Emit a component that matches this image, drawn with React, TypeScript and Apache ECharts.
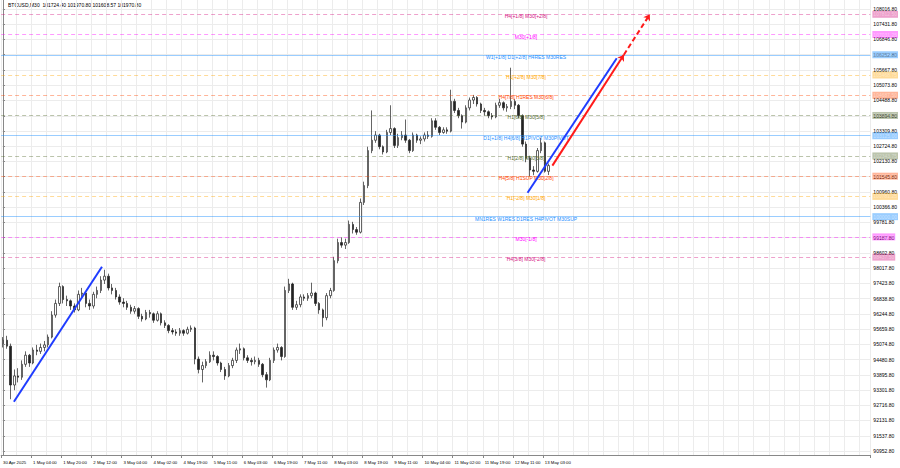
import React, { useEffect, useRef } from 'react';
import * as echarts from 'echarts';

const headerText = 'BTCUSD,M30  101724.40 101970.80 101608.57 101970.80';

const timeLabels = [
  '30 Apr 2025', '1 May 04:00', '1 May 20:00', '2 May 12:00', '3 May 04:00', '4 May 02:00',
  '4 May 19:00', '5 May 11:00', '6 May 03:00', '6 May 19:00', '7 May 11:00', '8 May 03:00',
  '8 May 19:00', '9 May 11:00', '10 May 04:00', '11 May 02:00', '11 May 19:00', '12 May 11:00',
  '13 May 03:00',
];

const yTicks = [
  108016.8, 107431.8, 106846.8, 106252.8, 105667.8, 105073.8, 104488.8, 103894.8, 103309.8,
  102724.8, 102130.8, 101545.8, 100960.8, 100366.8, 99781.8, 99187.8, 98602.8, 98017.8,
  97423.8, 96838.8, 96244.8, 95659.8, 95074.8, 94480.8, 93895.8, 93301.8, 92716.8, 92131.8,
  91537.8, 90952.8,
];

// [open, close, low, high] — 2-hour candles
const candles: number[][] = [
  [95100, 95230, 94950, 95350], [95230, 95000, 94900, 95400], [95000, 93500, 92950, 95100],
  [93500, 93850, 93300, 94100], [93850, 93800, 93600, 94150], [93800, 94300, 93700, 94450],
  [94300, 94650, 94200, 94800], [94650, 94350, 94200, 94700], [94350, 94850, 94300, 94950],
  [94850, 94800, 94650, 95050], [94800, 94950, 94700, 95100], [94950, 95050, 94800, 95200],
  [95050, 95350, 94950, 95450], [95350, 96200, 95300, 96350], [96200, 96650, 96100, 96800],
  [96650, 97300, 96550, 97450], [97300, 96800, 96650, 97350], [96800, 96750, 96550, 96950],
  [96750, 96550, 96400, 96800], [96550, 96400, 96300, 96650], [96400, 97000, 96350, 97150],
  [97000, 97050, 96900, 97250], [97050, 96650, 96500, 97100], [96650, 96550, 96400, 96800],
  [96550, 97000, 96450, 97100], [97000, 97150, 96850, 97300], [97150, 97550, 97050, 97700],
  [97550, 97700, 97400, 97950], [97700, 97250, 97150, 97800], [97250, 97150, 97000, 97400],
  [97150, 96900, 96800, 97250], [96900, 96700, 96600, 97000], [96700, 96650, 96500, 96850],
  [96650, 96500, 96400, 96750], [96500, 96350, 96250, 96600], [96350, 96450, 96250, 96550],
  [96450, 96150, 96050, 96500], [96150, 96050, 95950, 96250], [96050, 96300, 96000, 96400],
  [96300, 96250, 96100, 96400], [96250, 96000, 95900, 96300], [96000, 96250, 95950, 96350],
  [96250, 95900, 95800, 96300], [95900, 95800, 95700, 96000], [95800, 95600, 95500, 95850],
  [95600, 95550, 95450, 95700], [95550, 95500, 95400, 95650], [95500, 95600, 95400, 95700],
  [95600, 95500, 95400, 95650], [95500, 95650, 95450, 95750], [95650, 95700, 95550, 95800],
  [95700, 94500, 94300, 95750], [94500, 94100, 93950, 94600], [94100, 94250, 93600, 94400],
  [94250, 94400, 94150, 94500], [94400, 94650, 94350, 94800], [94650, 94600, 94450, 94800],
  [94600, 94350, 94250, 94650], [94350, 94100, 94000, 94400], [94100, 93850, 93700, 94200],
  [93850, 94250, 93800, 94350], [94250, 94450, 94150, 94550], [94450, 94850, 94350, 94950],
  [94850, 94900, 94700, 95100], [94900, 94550, 94450, 94950], [94550, 94450, 94350, 94650],
  [94450, 94400, 94250, 94550], [94400, 94450, 94300, 94600], [94450, 94300, 94200, 94550],
  [94300, 93900, 93800, 94350], [93900, 93700, 93400, 94000], [93700, 94450, 93650, 94550],
  [94450, 94850, 94350, 94950], [94850, 94950, 94750, 95100], [94950, 94600, 94450, 95000],
  [94600, 97150, 94550, 97300], [97150, 97400, 97050, 97600], [97400, 96500, 96400, 97450],
  [96500, 96600, 96400, 96750], [96600, 96900, 96500, 97000], [96900, 96850, 96750, 97000],
  [96850, 96950, 96750, 97050], [96950, 97050, 96850, 97450], [97050, 96650, 96550, 97100],
  [96650, 96400, 96250, 96700], [96400, 96100, 95750, 96450], [96100, 96950, 96000, 97050],
  [96950, 97150, 96850, 97250], [97150, 98300, 97100, 98450], [98300, 99000, 98200, 99150],
  [99000, 98900, 98800, 99200], [98900, 99000, 98750, 99150], [99000, 99700, 98950, 99850],
  [99700, 99500, 99350, 99800], [99500, 99400, 99300, 99600], [99400, 100550, 99350, 100700],
  [100550, 101200, 100450, 101350], [101200, 102550, 101100, 102700], [102550, 102950, 102450, 104100],
  [102950, 103150, 102850, 103300], [103150, 102700, 102600, 103200], [102700, 102500, 102400, 102750],
  [102500, 103250, 102450, 103350], [103250, 103400, 103150, 104300], [103400, 102750, 102650, 103450],
  [102750, 103050, 102650, 103200], [103050, 103150, 102950, 103300], [103150, 102950, 102850, 103750],
  [102950, 102550, 102450, 103000], [102550, 103150, 102500, 103250], [103150, 102950, 102850, 103200],
  [102950, 103000, 102800, 103100], [103000, 103150, 102900, 103250], [103150, 103100, 103000, 103300],
  [103100, 103700, 103050, 103800], [103700, 103450, 103350, 103800], [103450, 103250, 103150, 103500],
  [103250, 103350, 103200, 103450], [103350, 103300, 103200, 103450], [103300, 104450, 103250, 104900],
  [104450, 104100, 104000, 104550], [104100, 103900, 103800, 104200], [103900, 103650, 103400, 103950],
  [103650, 104200, 103600, 104300], [104200, 104500, 104100, 104600], [104500, 104600, 104350, 104700],
  [104600, 104350, 104250, 104650], [104350, 104100, 104000, 104400], [104100, 104050, 103900, 104200],
  [104050, 103900, 103800, 104100], [103900, 103850, 103750, 104000], [103850, 104300, 103800, 104400],
  [104300, 104400, 104200, 104550], [104400, 104200, 104100, 104450], [104200, 104250, 104050, 104350],
  [104250, 104450, 104150, 105750], [104450, 104300, 104150, 104550], [104300, 103900, 103800, 104350],
  [103900, 102800, 102700, 103950], [102800, 102250, 102100, 102900], [102250, 101800, 101550, 102350],
  [101800, 101750, 101600, 101950], [101750, 102550, 101700, 102650], [102550, 102850, 102450, 103050],
  [102850, 101750, 101700, 102900], [101750, 101970.8, 101608.57, 102050],
];

const lastPrice = 101970.8;

const levelPrices = [
  107812.5, 107031.25, 106250, 105468.75, 104687.5, 103906.25, 103125,
  102343.75, 101562.5, 100781.25, 100000, 99218.75, 98437.5,
];
const levelTexts = [
  'H4[+1/8] M30[+2/8]',
  'M30[+1/8]',
  'W1[+1/8] D1[+2/8] H4RES M30RES',
  'H1[+2/8] M30[7/8]',
  'H4[7/8] H1RES M30[6/8]',
  'H1[6/8] M30[5/8]',
  'D1[+1/8] H4[6/8] H1PIVOT M30PIVOT',
  'H1[2/8] M30[3/8]',
  'H4[5/8] H1SUP M30[2/8]',
  'H1[-2/8] M30[1/8]',
  'MN1RES W1RES D1RES H4PIVOT M30SUP',
  'M30[-1/8]',
  'H4[3/8] M30[-2/8]',
];
const levelColors = [
  '#d4137f', '#ff00ff', '#1e90ff', '#ffa500', '#ff4500', '#556b2f', '#1e90ff',
  '#556b2f', '#ff4500', '#ffa500', '#1e90ff', '#ff00ff', '#d4137f',
];
const levelSolid = [false, false, true, false, false, false, true, false, false, false, true, false, false];

// trend lines: [startIndex, startPrice, endIndex, endPrice]
const blueLines = [
  [2.9, 92856, 26.3, 98068],
  [139.4, 100925, 163.1, 106113],
];
const redSolid = [146, 101970.8, 165, 106250];
const redDashed = [165, 106250, 171.9, 107812.5];

const N = 231;
const labelStep = 8;
const gridStep = 4;
const textIndex = 139;

const FONT = 'Liberation Sans, Arial, sans-serif';

export default function App() {
  const ref = useRef<HTMLDivElement>(null);
  useEffect(() => {
    if (!ref.current) return;
    const chart = echarts.init(ref.current, undefined, { renderer: 'svg' });
    const cats = Array.from({ length: N }, (_, i) => 'c' + i);

    const markLineData: any[] = levelPrices.map((p, i) => ({
      yAxis: p,
      lineStyle: {
        color: levelColors[i],
        type: levelSolid[i] ? 'solid' : [4, 3],
        width: 1,
        opacity: levelSolid[i] ? 0.45 : 0.4,
      },
      label: {
        show: true,
        position: 'end',
        distance: 2,
        formatter: p.toFixed(2),
        backgroundColor: levelColors[i],
        color: '#ffffff',
        fontSize: 5,
        fontFamily: FONT,
        padding: [1, 1, 1, 1],
        lineHeight: 5,
      },
    }));
    markLineData.push({
      yAxis: lastPrice,
      lineStyle: { color: '#000', width: 0, opacity: 0 },
      label: {
        show: true,
        position: 'end',
        distance: 2,
        formatter: lastPrice.toFixed(2),
        backgroundColor: '#000000',
        color: '#ffffff',
        fontSize: 5,
        fontFamily: FONT,
        padding: [1, 1, 1, 1],
        lineHeight: 5,
      },
    });

    const markPointData = levelPrices.map((p, i) => ({
      coord: [textIndex, p],
      symbol: 'rect',
      symbolSize: 1,
      itemStyle: { color: 'rgba(0,0,0,0)' },
      label: {
        show: true,
        position: 'inside',
        offset: [0, 2],
        formatter: levelTexts[i],
        color: levelColors[i],
        fontSize: 5,
        fontFamily: FONT,
      },
    }));

    const mkLine = (seg: number[], color: string, type: any, arrow: boolean) => ({
      type: 'lines',
      coordinateSystem: 'cartesian2d',
      xAxisIndex: 1,
      yAxisIndex: 0,
      symbol: arrow ? ['none', 'arrow'] : ['none', 'none'],
      symbolSize: 6,
      silent: true,
      z: 10,
      lineStyle: { color, width: 2, type, opacity: 1 },
      data: [{ coords: [[seg[0], seg[1]], [seg[2], seg[3]]] }],
    });

    const showIdx = (idx: number) => idx % labelStep === 0 && idx / labelStep < timeLabels.length;

    chart.setOption({
      animation: false,
      backgroundColor: '#ffffff',
      textStyle: { fontFamily: FONT },
      grid: { left: 0, right: 28, top: 0, bottom: 13, containLabel: false },
      graphic: [
        {
          type: 'text',
          left: 8,
          top: 2,
          style: { text: headerText, fontSize: 5, fill: '#000', fontFamily: FONT },
        },
      ],
      xAxis: [
        {
          type: 'category',
          data: cats,
          boundaryGap: true,
          axisLine: { show: true, lineStyle: { color: '#888', width: 1 } },
          axisTick: {
            show: true,
            length: 3,
            interval: showIdx,
            lineStyle: { color: '#888' },
          },
          axisLabel: {
            show: true,
            interval: showIdx,
            formatter: (_v: string, idx: number) =>
              idx % labelStep === 0 ? timeLabels[idx / labelStep] ?? '' : '',
            align: 'left',
            fontSize: 4.3,
            color: '#000',
            margin: 5,
            fontFamily: FONT,
          },
          splitLine: {
            show: true,
            interval: (idx: number) => idx % gridStep === 0,
            lineStyle: { color: '#ececec', width: 1 },
          },
        },
        { type: 'value', min: -0.5, max: N - 0.5, show: false },
      ],
      yAxis: {
        type: 'value',
        position: 'right',
        min: 90798,
        max: 108364,
        axisLine: { show: true, lineStyle: { color: '#888', width: 1 } },
        axisTick: { show: true, length: 2, customValues: yTicks, lineStyle: { color: '#888' } },
        axisLabel: {
          customValues: yTicks,
          formatter: (v: number) => v.toFixed(2),
          fontSize: 5,
          color: '#000',
          margin: 3,
          fontFamily: FONT,
        },
        splitLine: { show: true, lineStyle: { color: '#ececec', width: 1 } },
      },
      series: [
        {
          type: 'candlestick',
          xAxisIndex: 0,
          yAxisIndex: 0,
          data: candles,
          barWidth: 2,
          itemStyle: {
            color: '#ffffff',
            color0: '#222222',
            borderColor: '#222222',
            borderColor0: '#222222',
            borderWidth: 0.7,
          },
          markLine: { symbol: ['none', 'none'], silent: true, animation: false, data: markLineData },
          markPoint: { silent: true, animation: false, data: markPointData },
        },
        ...blueLines.map((s) => mkLine(s, '#1f3cff', 'solid', false)),
        mkLine(redSolid, '#ff1a1a', 'solid', true),
        mkLine(redDashed, '#ff1a1a', [5, 3], true),
      ],
    });
    return () => chart.dispose();
  }, []);
  return (
    <div
      ref={ref}
      style={{ position: 'fixed', left: 0, top: 0, width: 900, height: 468, background: '#fff' }}
    />
  );
}
